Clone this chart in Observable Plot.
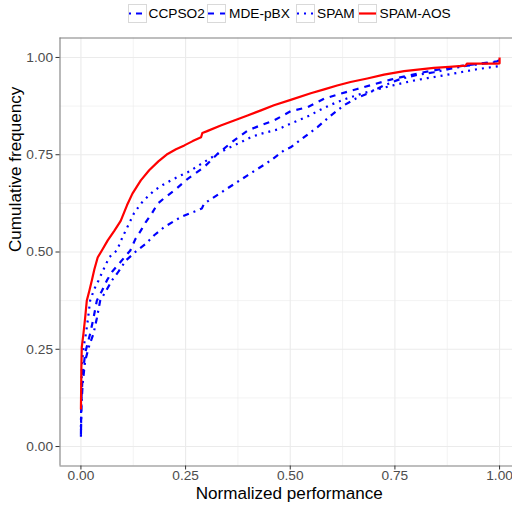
<!DOCTYPE html>
<html><head><meta charset="utf-8">
<script src="https://cdn.jsdelivr.net/npm/d3@7"></script>
<script src="https://cdn.jsdelivr.net/npm/@observablehq/plot@0.6"></script>
<style>
body{margin:0;background:#fff;font-family:"Liberation Sans",Arial,sans-serif;}
#wrap{width:512px;height:508px;position:relative;overflow:hidden;background:#fff}
#legend{position:relative;height:30px}
.key{position:absolute;top:4px;width:19px;height:19px;box-sizing:border-box;border:1px solid #d9d9d9;background:#fff}
.key svg{display:block}
.lab{position:absolute;top:5px;font-size:13.7px;line-height:17px;color:#000;white-space:nowrap}
</style></head><body><div id="wrap"><div id="legend"></div><div id="chart"></div></div>
<script>
const seriesNames = ["CCPSO2", "MDE-pBX", "SPAM", "SPAM-AOS"];

const ccpso2X = [0,0.001,0.004,0.01,0.02,0.03,0.038,0.046,0.06,0.074,0.09,0.107,0.134,0.155,0.175,0.199,0.239,0.278,0.289,0.294,0.342,0.398,0.453,0.485,0.501,0.549,0.565,0.596,0.628,0.656,0.684,0.724,0.764,0.803,0.843,0.883,0.923,0.96,0.994,1.0];
const ccpso2Y = [0.025,0.1,0.16,0.22,0.26,0.29,0.33,0.375,0.4,0.427,0.45,0.478,0.504,0.521,0.543,0.564,0.59,0.607,0.612,0.624,0.658,0.697,0.735,0.761,0.769,0.808,0.821,0.85,0.877,0.894,0.907,0.928,0.945,0.955,0.962,0.971,0.979,0.984,0.988,0.99];

const mdeX = [0,0.001,0.004,0.01,0.022,0.03,0.038,0.05,0.062,0.075,0.095,0.118,0.13,0.143,0.155,0.17,0.183,0.203,0.223,0.255,0.294,0.326,0.366,0.398,0.43,0.461,0.501,0.541,0.581,0.62,0.66,0.7,0.74,0.78,0.819,0.86,0.899,0.95,0.994,1.0];
const mdeY = [0.03,0.12,0.18,0.24,0.29,0.33,0.375,0.4,0.427,0.45,0.475,0.504,0.533,0.555,0.577,0.6,0.624,0.642,0.658,0.688,0.718,0.752,0.787,0.812,0.826,0.838,0.862,0.872,0.894,0.907,0.919,0.931,0.943,0.953,0.962,0.97,0.977,0.984,0.99,0.993];

const spamX = [0,0.001,0.003,0.007,0.012,0.017,0.022,0.032,0.042,0.056,0.068,0.086,0.1,0.111,0.127,0.143,0.159,0.175,0.195,0.215,0.235,0.255,0.275,0.294,0.314,0.334,0.354,0.374,0.406,0.43,0.47,0.501,0.549,0.565,0.596,0.628,0.668,0.708,0.748,0.788,0.828,0.867,0.907,0.947,0.994,1.0];
const spamY = [0.05,0.15,0.22,0.26,0.29,0.33,0.375,0.405,0.427,0.46,0.487,0.504,0.54,0.564,0.6,0.624,0.642,0.658,0.672,0.684,0.695,0.705,0.718,0.731,0.744,0.757,0.768,0.778,0.795,0.804,0.815,0.83,0.852,0.862,0.878,0.892,0.906,0.918,0.929,0.939,0.947,0.954,0.962,0.97,0.977,0.978];

const aosX = [0,0.001,0.002,0.006,0.01,0.014,0.02,0.026,0.032,0.04,0.05,0.064,0.08,0.095,0.11,0.123,0.143,0.163,0.185,0.207,0.227,0.247,0.267,0.287,0.29,0.3,0.334,0.366,0.398,0.43,0.461,0.501,0.549,0.581,0.612,0.644,0.684,0.724,0.772,0.843,0.88,0.919,0.922,0.994,1.0,1.0];
const aosY = [0.095,0.2,0.255,0.29,0.33,0.375,0.4,0.427,0.455,0.486,0.504,0.53,0.555,0.58,0.62,0.65,0.684,0.71,0.733,0.752,0.764,0.774,0.785,0.795,0.806,0.81,0.825,0.838,0.851,0.864,0.877,0.891,0.908,0.918,0.928,0.937,0.946,0.956,0.965,0.973,0.976,0.979,0.984,0.984,0.985,1.0];

const majorTicks = [0, 0.25, 0.5, 0.75, 1];
const minorTicks = [0.125, 0.375, 0.625, 0.875];
const tickLabels = ["0.00", "0.25", "0.50", "0.75", "1.00"];

const styles = {
  "CCPSO2":  {stroke: "#0000ff", dash: "2,5,6,5"},
  "MDE-pBX": {stroke: "#0000ff", dash: "6,6"},
  "SPAM":    {stroke: "#0000ff", dash: "2,5"},
  "SPAM-AOS":{stroke: "#ff0000", dash: null}
};

const xs = [ccpso2X, mdeX, spamX, aosX];
const ys = [ccpso2Y, mdeY, spamY, aosY];
const rows = seriesNames.map((s, i) => xs[i].map((x, j) => ({series: s, x, y: ys[i][j]})));

const lines = seriesNames.map((s, i) => Plot.line(rows[i], {
  x: "x", y: "y", stroke: styles[s].stroke, strokeWidth: 2.2,
  strokeDasharray: styles[s].dash || undefined, strokeLinecap: "butt", strokeLinejoin: "round"
}));

const fmt = d => tickLabels[majorTicks.indexOf(d)];

const chart = Plot.plot({
  width: 512, height: 478,
  marginLeft: 59.5, marginRight: 0, marginTop: 7.5, marginBottom: 42.5,
  style: {fontFamily: "'Liberation Sans', Arial, sans-serif", background: "#fff", overflow: "visible"},
  x: {domain: [-0.05, 1.05], range: [59.5, 520]},
  y: {domain: [-0.05, 1.05], range: [435.5, 7.5]},
  marks: [
    Plot.ruleX(minorTicks, {stroke: "#ebebeb", strokeWidth: 0.6}),
    Plot.ruleY(minorTicks, {stroke: "#ebebeb", strokeWidth: 0.6}),
    Plot.ruleX(majorTicks, {stroke: "#ebebeb", strokeWidth: 1.1}),
    Plot.ruleY(majorTicks, {stroke: "#ebebeb", strokeWidth: 1.1}),
    ...lines,
    Plot.ruleY([-0.05, 1.05], {stroke: "#7f7f7f", strokeWidth: 1.1}),
    Plot.ruleX([-0.05], {stroke: "#7f7f7f", strokeWidth: 1.1}),
    Plot.axisX({ticks: majorTicks, tickFormat: fmt, tickSize: 4, tickPadding: 0, fontSize: 13.7, stroke: "#333", fill: "#4d4d4d", label: null}),
    Plot.axisY({ticks: majorTicks, tickFormat: fmt, tickSize: 4, tickPadding: 3, fontSize: 13.7, stroke: "#333", fill: "#4d4d4d", label: null}),
    Plot.text(["Normalized performance"], {frameAnchor: "bottom", dx: 3, dy: 32.5, fontSize: 17.1, fill: "#000"}),
    Plot.text(["Cumulative frequency"], {frameAnchor: "left", rotate: -90, dx: -44.5, fontSize: 17.1, fill: "#000"})
  ]
});
document.getElementById("chart").appendChild(chart);

// legend
const keyLefts = [127.5, 207, 295.5, 357.5];
const labLefts = [148.5, 229, 317, 379.5];
const legend = document.getElementById("legend");
seriesNames.forEach((s, i) => {
  const k = document.createElement("div");
  k.className = "key";
  k.style.left = keyLefts[i] + "px";
  const dash = styles[s].dash ? `stroke-dasharray="${styles[s].dash}"` : "";
  k.innerHTML = `<svg width="17" height="17"><line x1="0" x2="17" y1="8.5" y2="8.5" stroke="${styles[s].stroke}" stroke-width="2.2" ${dash}/></svg>`;
  legend.appendChild(k);
  const l = document.createElement("div");
  l.className = "lab";
  l.style.left = labLefts[i] + "px";
  l.textContent = s;
  legend.appendChild(l);
});
</script></body></html>
